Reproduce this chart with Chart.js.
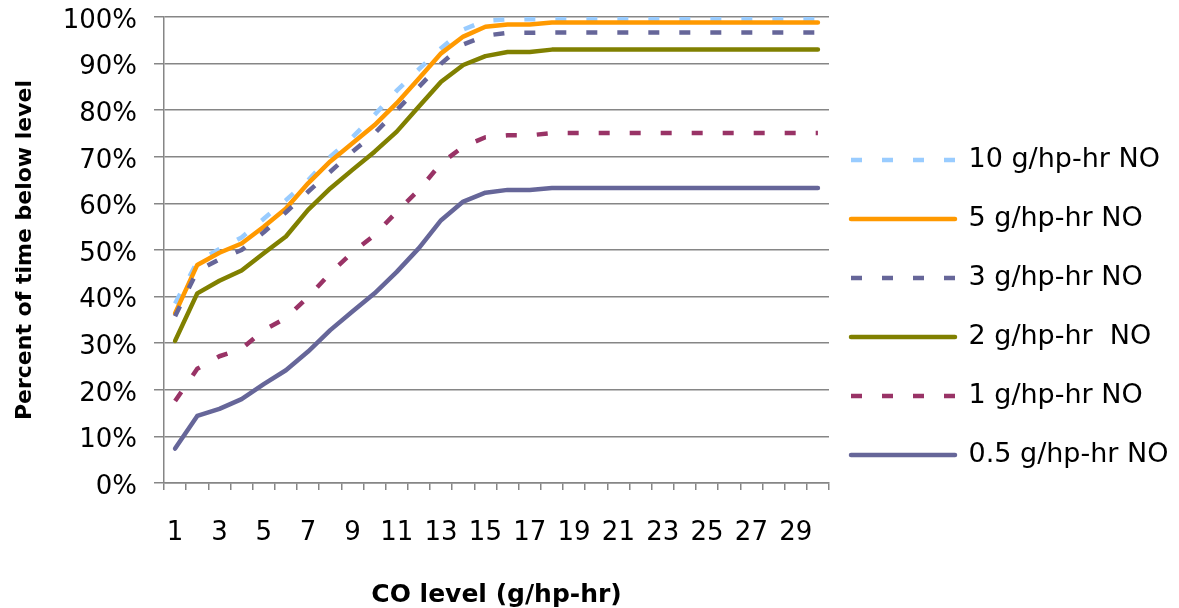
<!DOCTYPE html>
<html>
<head>
<meta charset="utf-8">
<script src="https://cdn.jsdelivr.net/npm/chart.js@4"></script>
<style>
  body { margin: 0; background: #fff; }
</style>
</head>
<body>
<canvas id="co-chart" width="1179" height="608"></canvas>
<script>
const coLevels = [1, 2, 3, 4, 5, 6, 7, 8, 9, 10, 11, 12, 13, 14, 15,
                  16, 17, 18, 19, 20, 21, 22, 23, 24, 25, 26, 27, 28, 29, 30];

// percent of time below each CO level, one array per NO limit
const no10 = [38.5, 47.5, 50.2, 52.7, 56.7, 60.7, 65.0, 70.0, 74.2, 79.0, 84.2, 88.8, 93.3, 97.3, 99.2,
              99.5, 99.5, 99.5, 99.5, 99.5, 99.5, 99.5, 99.5, 99.5, 99.5, 99.5, 99.5, 99.5, 99.5, 99.5];
const no5 = [36.4, 46.8, 49.4, 51.4, 55.0, 58.9, 64.3, 69.0, 72.9, 76.8, 81.5, 86.8, 92.2, 95.8, 97.9,
             98.4, 98.4, 98.8, 98.8, 98.8, 98.8, 98.8, 98.8, 98.8, 98.8, 98.8, 98.8, 98.8, 98.8, 98.8];
const no3 = [35.8, 45.5, 48.0, 50.0, 53.8, 58.1, 62.5, 66.8, 71.1, 75.0, 80.0, 85.0, 90.0, 94.1, 96.0,
             96.6, 96.6, 96.7, 96.7, 96.7, 96.7, 96.7, 96.7, 96.7, 96.7, 96.7, 96.7, 96.7, 96.7, 96.7];
const no2 = [30.5, 40.7, 43.4, 45.6, 49.3, 52.9, 58.6, 63.2, 67.2, 71.1, 75.4, 80.8, 86.1, 89.7, 91.6,
             92.5, 92.5, 93.0, 93.0, 93.0, 93.0, 93.0, 93.0, 93.0, 93.0, 93.0, 93.0, 93.0, 93.0, 93.0];
const no1 = [17.6, 24.5, 27.2, 28.8, 32.8, 35.4, 39.9, 45.0, 49.5, 53.2, 58.2, 62.9, 68.6, 72.2, 74.2,
             74.6, 74.6, 75.1, 75.1, 75.1, 75.1, 75.1, 75.1, 75.1, 75.1, 75.1, 75.1, 75.1, 75.1, 75.1];
const no05 = [7.4, 14.4, 15.9, 18.0, 21.2, 24.2, 28.2, 32.8, 36.8, 40.7, 45.3, 50.4, 56.4, 60.4, 62.3,
              62.9, 62.9, 63.3, 63.3, 63.3, 63.3, 63.3, 63.3, 63.3, 63.3, 63.3, 63.3, 63.3, 63.3, 63.3];

const gridGray = '#868686';

function series(label, data, color, dashed, order) {
    return {
        label: label,
        data: data,
        borderColor: color,
        backgroundColor: color,
        borderWidth: 4.5,
        borderDash: dashed ? [11, 20] : [],
        borderCapStyle: dashed ? 'butt' : 'round',
        borderJoinStyle: 'round',
        pointRadius: 0,
        tension: 0,
        order: order
    };
}

// legend sits a little closer to the plot than Chart.js would put it
const legendNudge = {
    id: 'legendNudge',
    afterLayout(chart) {
        const lg = chart.legend;
        lg.left -= 10;
        lg.right -= 10;
        lg.top -= 5;
        lg.bottom -= 5;
    }
};

Chart.defaults.font.family = '"DejaVu Sans", sans-serif';
Chart.defaults.color = '#000';

const ctx = document.getElementById('co-chart').getContext('2d');
new Chart(ctx, {
    type: 'line',
    data: {
        labels: coLevels,
        datasets: [
            series('10 g/hp-hr NO', no10, '#99CCFF', true, 5),
            series('5 g/hp-hr NO', no5, '#FF9900', false, 4),
            series('3 g/hp-hr NO', no3, '#666699', true, 3),
            series('2 g/hp-hr  NO', no2, '#808000', false, 2),
            series('1 g/hp-hr NO', no1, '#993366', true, 1),
            series('0.5 g/hp-hr NO', no05, '#666699', false, 0)
        ]
    },
    options: {
        responsive: false,
        animation: false,
        events: [],
        layout: { padding: { top: 17, right: 0, bottom: 0, left: 0 } },
        plugins: {
            legend: {
                position: 'right',
                maxWidth: 350,
                labels: {
                    usePointStyle: true,
                    pointStyle: 'line',
                    pointStyleWidth: 104,
                    padding: 32,
                    color: '#000',
                    font: { size: 27 },
                    sort: (a, b) => a.datasetIndex - b.datasetIndex,
                    // point styles carry no dash, so copy the line's own stroke
                    generateLabels(chart) {
                        const items = Chart.defaults.plugins.legend.labels.generateLabels(chart);
                        items.forEach(item => {
                            const ds = chart.data.datasets[item.datasetIndex];
                            item.lineDash = ds.borderDash;
                            item.lineCap = ds.borderCapStyle;
                            item.lineWidth = ds.borderWidth;
                            item.strokeStyle = ds.borderColor;
                        });
                        return items;
                    }
                }
            },
            tooltip: { enabled: false }
        },
        scales: {
            x: {
                offset: true,
                grid: {
                    offset: true,
                    drawOnChartArea: false,
                    drawTicks: true,
                    tickLength: 7,
                    color: gridGray,
                    lineWidth: 1.5
                },
                border: { color: gridGray, width: 1.5 },
                ticks: {
                    autoSkip: false,
                    maxRotation: 0,
                    padding: 28,
                    font: { size: 26 },
                    color: '#000',
                    callback: function (val, i) {
                        return i % 2 === 0 ? this.getLabelForValue(val) : '';
                    }
                },
                title: {
                    display: true,
                    text: 'CO level (g/hp-hr)',
                    color: '#000',
                    font: { size: 25, weight: 'bold', lineHeight: 1 },
                    padding: 0
                },
                afterFit: s => { s.height = 125; }
            },
            y: {
                min: 0,
                max: 100,
                grid: {
                    color: gridGray,
                    lineWidth: 1.5,
                    tickLength: 10
                },
                border: { color: gridGray, width: 1.5 },
                ticks: {
                    stepSize: 10,
                    padding: 17,
                    labelOffset: 4,
                    font: { size: 26 },
                    color: '#000',
                    callback: v => v + '%'
                },
                title: {
                    display: true,
                    text: 'Percent of time below level',
                    color: '#000',
                    font: { size: 22, weight: 'bold', lineHeight: 1.2 },
                    padding: { top: 12, bottom: 0 }
                },
                // fixed axis width; top/bottom label room is already in the layout padding
                afterFit: s => {
                    s.width = 164;
                    s.paddingTop = 0;
                    s.paddingBottom = 0;
                }
            }
        }
    },
    plugins: [legendNudge]
});
</script>
</body>
</html>
